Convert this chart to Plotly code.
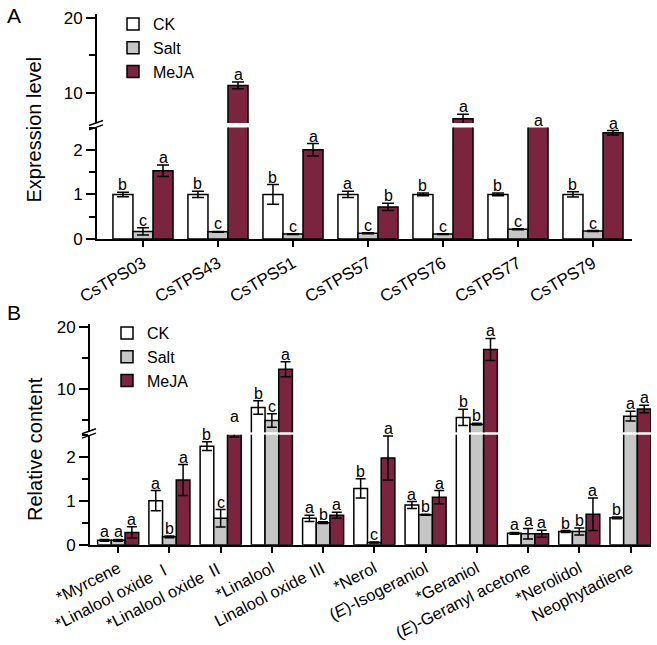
import plotly.graph_objects as go

W, H = 657, 645

# ---------------- data: panel A ----------------
A_genes = ["CsTPS03", "CsTPS43", "CsTPS51", "CsTPS57", "CsTPS76", "CsTPS77", "CsTPS79"]
A_ck = [1.0, 1.0, 1.0, 1.0, 1.0, 1.0, 1.0]
A_ck_err = [0.05, 0.07, 0.22, 0.07, 0.03, 0.03, 0.06]
A_salt = [0.17, 0.16, 0.11, 0.13, 0.11, 0.22, 0.18]
A_salt_err = [0.08, 0.01, 0.01, 0.01, 0.01, 0.01, 0.01]
A_meja = [1.53, 11.0, 2.0, 0.72, 6.55, 4.5, 2.38]
A_meja_err = [0.13, 0.45, 0.14, 0.08, 0.6, 0.0, 0.05]
A_ck_let = ["b", "b", "b", "a", "b", "b", "b"]
A_salt_let = ["c", "c", "c", "c", "c", "c", "c"]
A_meja_let = ["a", "a", "a", "b", "a", "a", "a"]

# ---------------- data: panel B ----------------
B_comp = ["*Myrcene", "*Linalool oxide Ⅰ", "*Linalool oxide Ⅱ", "*Linalool",
          "Linalool oxide Ⅲ", "*Nerol", "(<i>E</i>)-Isogeraniol", "*Geraniol",
          "(<i>E</i>)-Geranyl acetone", "*Nerolidol", "Neophytadiene"]
B_ck = [0.1, 1.0, 2.24, 7.0, 0.6, 1.28, 0.9, 5.4, 0.26, 0.3, 0.61]
B_ck_err = [0.02, 0.23, 0.1, 1.1, 0.07, 0.22, 0.08, 1.3, 0.02, 0.02, 0.02]
B_salt = [0.1, 0.18, 0.6, 4.9, 0.5, 0.05, 0.68, 4.3, 0.25, 0.3, 5.6]
B_salt_err = [0.02, 0.02, 0.2, 1.1, 0.02, 0.01, 0.01, 0.15, 0.12, 0.08, 0.8]
B_meja = [0.28, 1.47, 2.6, 13.2, 0.67, 1.97, 1.08, 16.4, 0.25, 0.69, 6.76]
B_meja_err = [0.13, 0.35, 0.15, 1.2, 0.07, 0.5, 0.15, 1.8, 0.08, 0.37, 0.6]
B_ck_let = ["a", "a", "b", "b", "a", "b", "a", "b", "a", "b", "b"]
B_salt_let = ["a", "b", "c", "c", "b", "c", "b", "b", "a", "b", "a"]
B_meja_let = ["a"] * 11

groups = ["CK", "Salt", "MeJA"]
colors = {"CK": "#ffffff", "Salt": "#c6c6c6", "MeJA": "#7a2440"}
FONT = "Liberation Sans, Arial, Noto Sans CJK SC, sans-serif"


def px2x(px):
    return px / W


def px2y(py):
    return 1 - py / H


fig = go.Figure()

panels = {
    "A": dict(xdom=[px2x(97), px2x(632)], xrange=[-0.613, 6.52],
              lo_dom=[px2y(239), px2y(127.5)], lo_range=[0, 2.5],
              up_dom=[px2y(123), px2y(14)], up_range=[6, 20.5],
              xa="x", ya_lo="y", ya_up="y2", legend="legend",
              cats=A_genes, vals=[A_ck, A_salt, A_meja],
              errs=[A_ck_err, A_salt_err, A_meja_err],
              lets=[A_ck_let, A_salt_let, A_meja_let], capw=6,
              xfont=17, xangle=-30),
    "B": dict(xdom=[px2x(90), px2x(651)], xrange=[-0.55, 10.4],
              lo_dom=[px2y(544.7), px2y(434.7)], lo_range=[0, 2.5],
              up_dom=[px2y(432.2), px2y(324.2)], up_range=[3, 20.5],
              xa="x2", ya_lo="y3", ya_up="y4", legend="legend2",
              cats=B_comp, vals=[B_ck, B_salt, B_meja],
              errs=[B_ck_err, B_salt_err, B_meja_err],
              lets=[B_ck_let, B_salt_let, B_meja_let], capw=5,
              xfont=16.5, xangle=-27),
}

bw = 0.267
annotations = []
for pk, p in panels.items():
    lo_px_per_unit = (p["lo_dom"][1] - p["lo_dom"][0]) * H / (p["lo_range"][1] - p["lo_range"][0])
    for gi, g in enumerate(groups):
        off = -1.5 * bw + gi * bw
        for ya in (p["ya_lo"], p["ya_up"]):
            fig.add_trace(go.Bar(
                x=p["cats"], y=p["vals"][gi], name=g,
                xaxis=p["xa"], yaxis=ya,
                width=bw, offset=off,
                marker=dict(color=colors[g], line=dict(color="black", width=1.5)),
                error_y=dict(type="data", array=p["errs"][gi], visible=True,
                             color="black", thickness=1.5, width=p["capw"]),
                showlegend=(ya == p["ya_lo"]), legend=p["legend"],
            ))
        for ci, cat in enumerate(p["cats"]):
            v = p["vals"][gi][ci]
            e = p["errs"][gi][ci]
            top = v + e
            lo_top = p["lo_range"][1]
            up_bot = p["up_range"][0]
            if v >= up_bot:
                yref, yy, shift = p["ya_up"], top, 0
            elif top <= lo_top:
                yref, yy, shift = p["ya_lo"], top, 0
            else:
                yref, yy = p["ya_lo"], lo_top
                shift = 0 if e == 0 else min(top - lo_top, up_bot - lo_top) * lo_px_per_unit
            annotations.append(dict(
                x=ci + off + bw / 2, y=yy, xref=p["xa"], yref=yref,
                text=p["lets"][gi][ci], showarrow=False, yanchor="bottom",
                yshift=shift - 3, font=dict(size=16, color="black", family=FONT)))

axis_common = dict(showgrid=False, zeroline=False, showline=True, linecolor="black",
                   linewidth=2, ticks="outside", tickcolor="black", tickwidth=1.5,
                   automargin=False,
                   tickfont=dict(size=17, color="black", family=FONT))

layout = dict(
    width=W, height=H, margin=dict(l=0, r=0, t=0, b=0, autoexpand=False),
    paper_bgcolor="white", plot_bgcolor="white", barmode="overlay",
    font=dict(family=FONT, color="black"), showlegend=True,
)

for pk, p in panels.items():
    xname = "xaxis" if p["xa"] == "x" else "xaxis" + p["xa"][1:]
    lo_name = "yaxis" if p["ya_lo"] == "y" else "yaxis" + p["ya_lo"][1:]
    up_name = "yaxis" + p["ya_up"][1:]
    layout[xname] = dict(axis_common, domain=p["xdom"], range=p["xrange"],
                         anchor=p["ya_lo"], type="category", tickangle=p["xangle"],
                         ticklen=6,
                         tickfont=dict(size=p["xfont"], color="black", family=FONT))
    layout[lo_name] = dict(axis_common, domain=p["lo_dom"], range=p["lo_range"],
                           anchor=p["xa"], tickmode="linear", tick0=0, dtick=1,
                           ticklen=9, minor=dict(dtick=0.5, ticklen=6, tickwidth=1.5,
                                                 tickcolor="black", ticks="outside"))
    layout[up_name] = dict(axis_common, domain=p["up_dom"], range=p["up_range"],
                           anchor=p["xa"], tickmode="linear", tick0=0, dtick=10,
                           ticklen=9, minor=dict(dtick=5, ticklen=6, tickwidth=1.5,
                                                 tickcolor="black", ticks="outside"))

legend_common = dict(bgcolor="rgba(0,0,0,0)", font=dict(size=16, color="black", family=FONT),
                     xanchor="left", yanchor="top", traceorder="normal", tracegroupgap=0,
                     itemclick=False)
layout["legend"] = dict(legend_common, x=px2x(113), y=px2y(7))
layout["legend2"] = dict(legend_common, x=px2x(107), y=px2y(316))

annotations += [
    dict(text="Expression level", x=px2x(33), y=px2y(129.5), xref="paper", yref="paper",
         xanchor="center", yanchor="middle",
         textangle=-90, showarrow=False, font=dict(size=20, family=FONT, color="black")),
    dict(text="Relative content", x=px2x(35), y=px2y(449), xref="paper", yref="paper",
         xanchor="center", yanchor="middle",
         textangle=-90, showarrow=False, font=dict(size=20, family=FONT, color="black")),
    dict(text="A", x=px2x(14), y=px2y(15), xref="paper", yref="paper",
         xanchor="center", yanchor="middle",
         showarrow=False, font=dict(size=21, family=FONT, color="black")),
    dict(text="B", x=px2x(14), y=px2y(312), xref="paper", yref="paper",
         xanchor="center", yanchor="middle",
         showarrow=False, font=dict(size=21, family=FONT, color="black")),
]
layout["annotations"] = annotations

shapes = []
for ax_px, ymid, in ((97, 125.2), (90, 433.4)):
    for dy in (-2.2, 2.2):
        shapes.append(dict(type="line", xref="paper", yref="paper",
                           x0=px2x(ax_px - 8), y0=px2y(ymid + dy + 2.5),
                           x1=px2x(ax_px + 6), y1=px2y(ymid + dy - 2.5),
                           line=dict(color="black", width=1.5)))
layout["shapes"] = shapes

fig.update_layout(**layout)
fig.write_html("out.html", config={"displayModeBar": False},
               post_script="document.body.style.margin='0';document.body.style.overflow='hidden';")
